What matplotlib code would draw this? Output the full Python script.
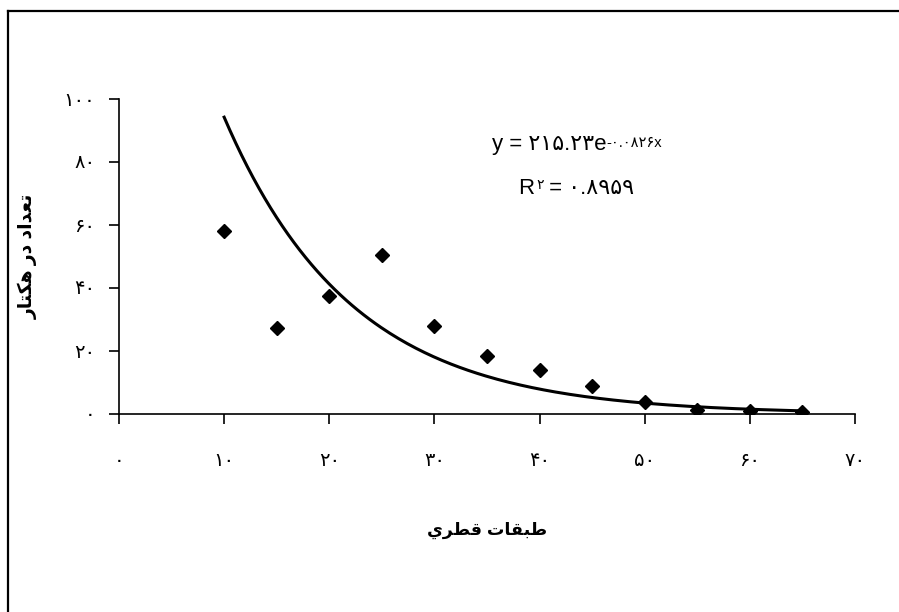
import matplotlib
matplotlib.use("Agg")
import matplotlib.pyplot as plt
import numpy as np
from matplotlib.lines import Line2D

plt.rcParams['font.family'] = ['Liberation Sans', 'DejaVu Sans']

# diameter classes and stems per hectare
diam = [10, 15, 20, 25, 30, 35, 40, 45, 50, 55, 60, 65]
count = [58, 27.4, 37.5, 50.4, 28, 18.5, 14, 8.9, 3.8, 1.3, 0.8, 0.5]

# exponential trendline y = a*exp(-b*x)
trend_a = 215.23
trend_b = 0.0826

x_ticks = [0, 10, 20, 30, 40, 50, 60, 70]
x_tick_labels = ["۰", "۱۰", "۲۰", "۳۰", "۴۰", "۵۰", "۶۰", "۷۰"]
y_ticks = [0, 20, 40, 60, 80, 100]
y_tick_labels = ["۰", "۲۰", "۴۰", "۶۰", "۸۰", "۱۰۰"]

# arabic presentation forms, already in visual order
xlabel = "\uFEF1\uFEAE\uFEC4\uFED7 \uFE95\uFE8E\uFED8\uFE92\uFEC3"   # طبقات قطري
ylabel = "\uFEAD\uFE8E\uFE98\uFEDC\uFEEB \uFEAD\uFEA9 \uFEA9\uFE8D\uFEAA\uFECC\uFE97"   # تعداد در هکتار

eq_base = "y = ۲۱۵.۲۳e"
eq_exp = "-۰.۰۸۲۶x"
r2_value = " = ۰.۸۹۵۹"

W, H = 899, 612
fig = plt.figure(figsize=(W / 100, H / 100), dpi=100)
ax = fig.add_axes([119 / W, 198 / H, (855 - 119) / W, (414 - 99) / H])

xs = np.linspace(min(diam), max(diam), 200)
ax.plot(xs, trend_a * np.exp(-trend_b * xs), color='black', lw=2.2, zorder=2)
ax.plot(diam, count, linestyle='none', marker='D', ms=6.8, color='black', zorder=3)

ax.set_xlim(0, 70)
ax.set_ylim(0, 100)
ax.set_xticks(x_ticks)
ax.set_xticklabels(x_tick_labels, fontsize=14)
ax.set_yticks(y_ticks)
ax.set_yticklabels(y_tick_labels, fontsize=14)
ax.tick_params(axis='x', direction='out', length=7, width=1.2, pad=21)
ax.tick_params(axis='y', direction='out', length=7, width=1.2, pad=10)
for s in ['top', 'right']:
    ax.spines[s].set_visible(False)
for s in ['left', 'bottom']:
    ax.spines[s].set_linewidth(1.2)
ax.set_clip_on(False)

ax.set_xlabel(xlabel, fontsize=12.5, fontweight='bold', va='center')
ax.xaxis.set_label_coords(0.5, -0.368)
ax.set_ylabel(ylabel, fontsize=13.5, fontweight='bold', va='center')
ax.yaxis.set_label_coords(-0.124, 0.5)

t1 = ax.text(46.4, 85.4, eq_base, fontsize=16, ha='right', va='center')
ax.annotate(eq_exp, xy=(1.0, 0.95), xycoords=t1, fontsize=10.5, ha='left', va='top')

tR = ax.text(39.5, 71.7, "R", fontsize=16, ha='right', va='center')
t2 = ax.annotate("۲", xy=(1.1, 1.0), xycoords=tR, fontsize=10, ha='left', va='top')
ax.annotate(r2_value, xy=(1.0, 0.0), xycoords=(t2, tR), fontsize=16, ha='left', va='bottom')

# chart frame (cropped, only top and left edges visible)
fig.add_artist(Line2D([8 / W, 1], [1 - 11 / H, 1 - 11 / H], color='black', lw=1.6,
                      transform=fig.transFigure))
fig.add_artist(Line2D([8 / W, 8 / W], [0, 1 - 11 / H], color='black', lw=1.6,
                      transform=fig.transFigure))

fig.savefig('out.png', dpi=100)
